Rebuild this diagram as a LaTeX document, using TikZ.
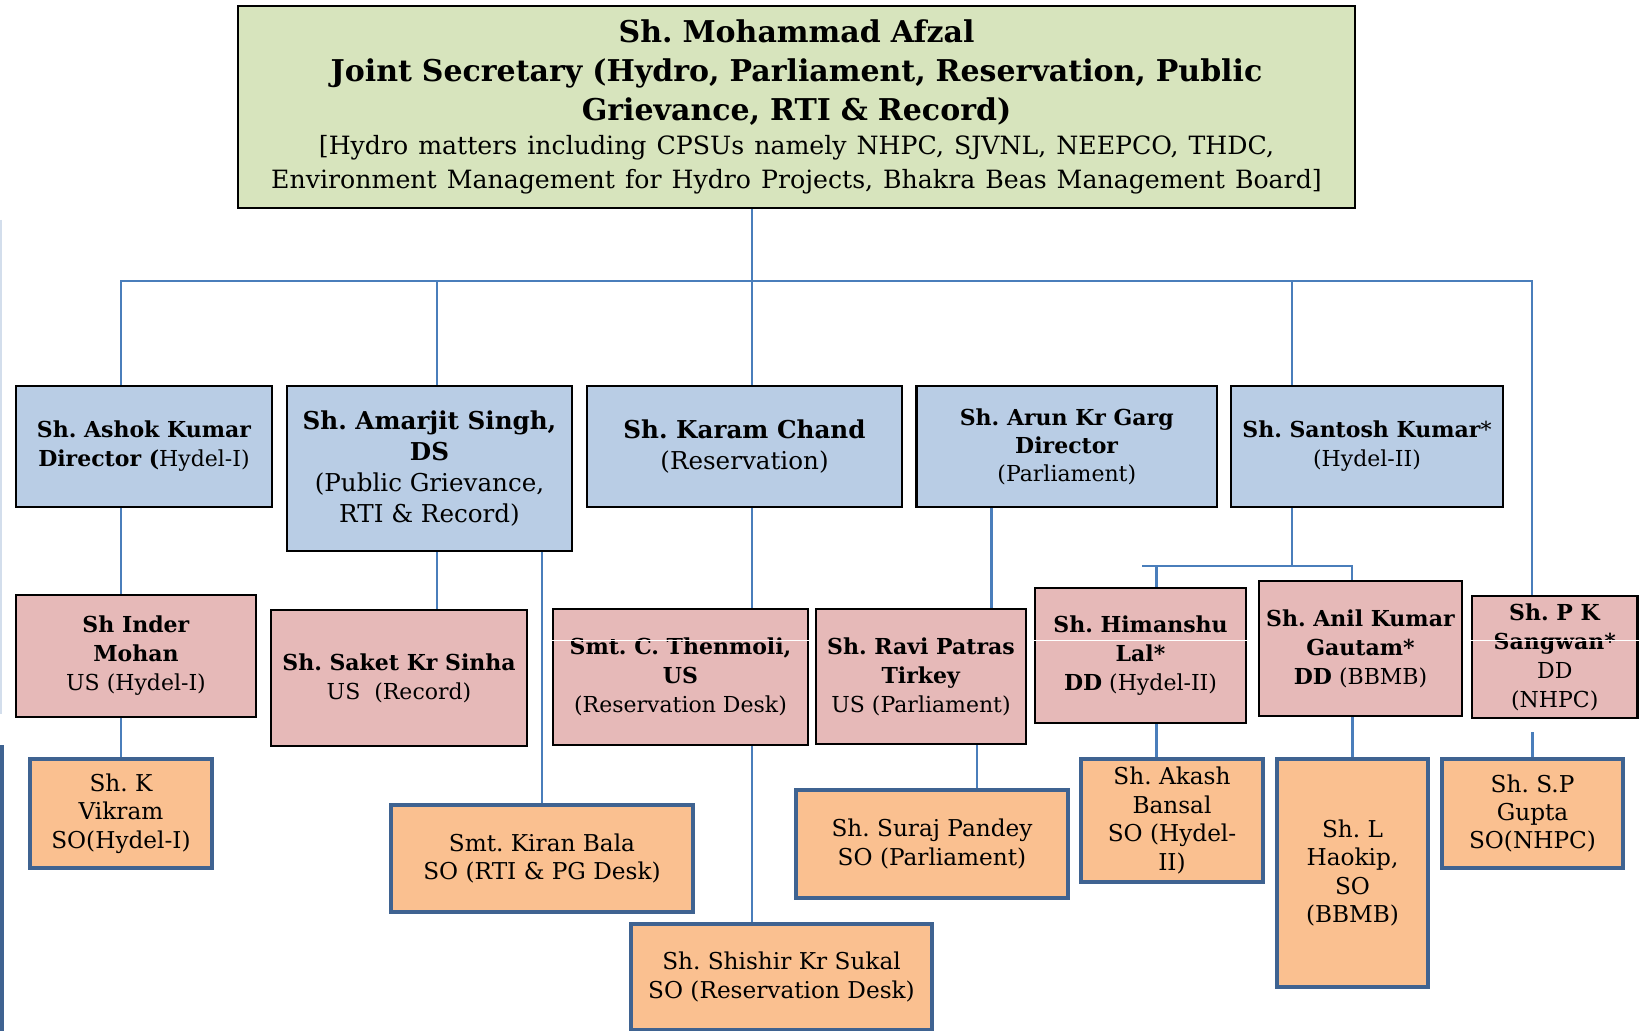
\documentclass[tikz,border=0pt]{standalone}
\usepackage{fontspec}
\setmainfont{DejaVu Serif}
\definecolor{jsgreen}{HTML}{D7E4BD}
\definecolor{dirblue}{HTML}{B9CDE5}
\definecolor{uspink}{HTML}{E6B9B8}
\definecolor{soorange}{HTML}{FAC090}
\definecolor{soedge}{HTML}{3F6391}
\definecolor{linkblue}{HTML}{4A7EBB}
\definecolor{ghost}{HTML}{D3DEEC}

\begin{document}
\frenchspacing
\begin{tikzpicture}
    [x=0.5pt,y=-0.5pt,
    every node/.style={inner sep=0pt,align=center,font=\fontsize{11}{14.5}\selectfont},
    jsbox/.style={rectangle,draw=black,fill=jsgreen,line width=1.3pt},
    director/.style={rectangle,draw=black,fill=dirblue,line width=1.3pt},
    deputy/.style={rectangle,draw=black,fill=uspink,line width=1.3pt},
    officer/.style={rectangle,draw=soedge,fill=soorange,line width=2.3pt,
                    font=\fontsize{11.6}{14.2}\selectfont},
    link/.style={draw=linkblue,line width=1.1pt}]

    \useasboundingbox (0,0) rectangle (1647,1031);

    % joint secretary
    \node[jsbox,minimum width=558.5pt,minimum height=101pt,text width=550pt,
          font=\fontsize{15}{19.5}\selectfont] (js) at (796.5,107)
        {{\bfseries Sh. Mohammad Afzal\\
          Joint Secretary (Hydro, Parliament, Reservation, Public\\
          Grievance, RTI \& Record)\par}
         \fontsize{12.6}{17}\selectfont
         [Hydro matters including CPSUs namely NHPC, SJVNL, NEEPCO, THDC,\\
         Environment Management for Hydro Projects, Bhakra Beas Management Board]\par};

    % directors
    \node[director,minimum width=128pt,minimum height=60.5pt] (ashok) at (144,446.5)
        {\textbf{Sh. Ashok Kumar}\\\textbf{Director (}Hydel-I)};
    \node[director,minimum width=142.5pt,minimum height=82.5pt,
          font=\fontsize{12.3}{15.5}\selectfont] (amarjit) at (429.5,468.5)
        {\textbf{Sh. Amarjit Singh,}\\\textbf{DS}\\(Public Grievance,\\RTI \& Record)};
    \node[director,minimum width=157.5pt,minimum height=60.5pt,
          font=\fontsize{12.3}{15.5}\selectfont] (karam) at (744.5,446.5)
        {\textbf{Sh. Karam Chand}\\(Reservation)};
    \node[director,minimum width=150.25pt,minimum height=60.5pt,
          font=\fontsize{11}{14}\selectfont] (arun) at (1066.75,446.5)
        {\textbf{Sh. Arun Kr Garg}\\\textbf{Director}\\(Parliament)};
    \node[director,minimum width=136pt,minimum height=60.5pt] (santosh) at (1367,446.5)
        {\textbf{Sh. Santosh Kumar}*\\(Hydel-II)};

    % under secretaries and deputy directors
    \node[deputy,minimum width=120pt,minimum height=61pt] (inder) at (136,656)
        {\textbf{Sh Inder}\\\textbf{Mohan}\\US (Hydel-I)};
    \node[deputy,minimum width=128pt,minimum height=68pt] (saket) at (399,678)
        {\textbf{Sh. Saket Kr Sinha}\\US\ \ (Record)};
    \node[deputy,minimum width=127.5pt,minimum height=68pt] (thenmoli) at (680.5,677)
        {\textbf{Smt. C. Thenmoli,}\\\textbf{US}\\(Reservation Desk)};
    \node[deputy,minimum width=105pt,minimum height=67.5pt] (ravi) at (921,676.5)
        {\textbf{Sh. Ravi Patras}\\\textbf{Tirkey}\\US (Parliament)};
    \node[deputy,minimum width=105.5pt,minimum height=67.5pt] (himanshu) at (1140.5,655.5)
        {\textbf{Sh. Himanshu}\\\textbf{Lal*}\\\textbf{DD} (Hydel-II)};
    \node[deputy,minimum width=101.5pt,minimum height=67.5pt] (anil) at (1360.5,648.5)
        {\textbf{Sh. Anil Kumar}\\\textbf{Gautam*}\\\textbf{DD} (BBMB)};
    \node[deputy,minimum width=82.75pt,minimum height=61pt] (pk) at (1554.75,657)
        {\textbf{Sh. P K}\\\textbf{Sangwan*}\\DD\\(NHPC)};

    % section officers
    \node[officer,minimum width=91pt,minimum height=54.5pt] (vikram) at (121,813.5)
        {Sh. K\\Vikram\\SO(Hydel-I)};
    \node[officer,minimum width=151pt,minimum height=53.5pt] (kiran) at (542,858.5)
        {Smt. Kiran Bala\\SO (RTI \& PG Desk)};
    \node[officer,minimum width=150.5pt,minimum height=53pt] (shishir) at (781.5,977)
        {Sh. Shishir Kr Sukal\\SO (Reservation Desk)};
    \node[officer,minimum width=136pt,minimum height=54pt] (suraj) at (932,844)
        {Sh. Suraj Pandey\\SO (Parliament)};
    \node[officer,minimum width=91pt,minimum height=61.5pt] (akash) at (1172,820.5)
        {Sh. Akash\\Bansal\\SO (Hydel-\\II)};
    \node[officer,minimum width=75.5pt,minimum height=114pt] (haokip) at (1352.5,873)
        {Sh. L\\Haokip,\\SO\\(BBMB)};
    \node[officer,minimum width=90.5pt,minimum height=54.5pt] (gupta) at (1532.5,813.5)
        {Sh. S.P\\Gupta\\SO(NHPC)};

    \coordinate (busL) at (121,281);
    \coordinate (busR) at (1532,281);
    \coordinate (subL) at (1142,566);

    \draw[link] (js.south -| 751.6,0) -- (karam.north -| 751.6,0);
    \draw[link] (ashok.north -| busL) |- (busR) -- (busR |- pk.north);
    \draw[link] (busL -| 436.7,0) -- (amarjit.north -| 436.7,0);
    \draw[link] (busL -| 1292,0) -- (santosh.north -| 1292,0);

    \draw[link] (ashok.south -| vikram.north) -- (inder.north -| vikram.north);
    \draw[link] (inder.south -| vikram.north) -- (vikram.north);
    \draw[link] (amarjit.south -| 436.7,0) -- (saket.north -| 436.7,0);
    \draw[link] (amarjit.south -| kiran.north) -- (kiran.north);
    \draw[link] (karam.south -| 751.6,0) -- (thenmoli.north -| 751.6,0);
    \draw[link] (thenmoli.south -| 751.6,0) -- (shishir.north -| 751.6,0);
    \draw[link] (arun.south -| 991.4,0) -- (ravi.north -| 991.4,0);
    \draw[link] (ravi.south -| 977,0) -- (suraj.north -| 977,0);
    \draw[link] (santosh.south -| 1292,0) -- (subL -| 1292,0);
    \draw[link] (subL) -| (anil.north -| 1352,0);
    \draw[link] (subL -| 1156.5,0) -- (himanshu.north -| 1156.5,0);
    \draw[link] (himanshu.south -| 1156.5,0) -- (akash.north -| 1156.5,0);
    \draw[link] (anil.south -| haokip.north) -- (haokip.north);
    \draw[link,shorten <=6.5pt] (pk.south -| gupta.north) -- (gupta.north);

    % cut edges at the left border
    \draw[ghost,line width=0.8pt] (1,220) -- (1,714);
    \draw[soedge,line width=2pt] (2,745) -- (2,1031);
    \draw[white,line width=0.5pt] (thenmoli.west |- 0,640) -- (thenmoli.east |- 0,640);
    \draw[white,line width=0.5pt] (himanshu.west |- 0,640) -- (himanshu.east |- 0,640);
    \draw[white,line width=0.5pt] (pk.west |- 0,640) -- (pk.east |- 0,640);
\end{tikzpicture}
\end{document}
